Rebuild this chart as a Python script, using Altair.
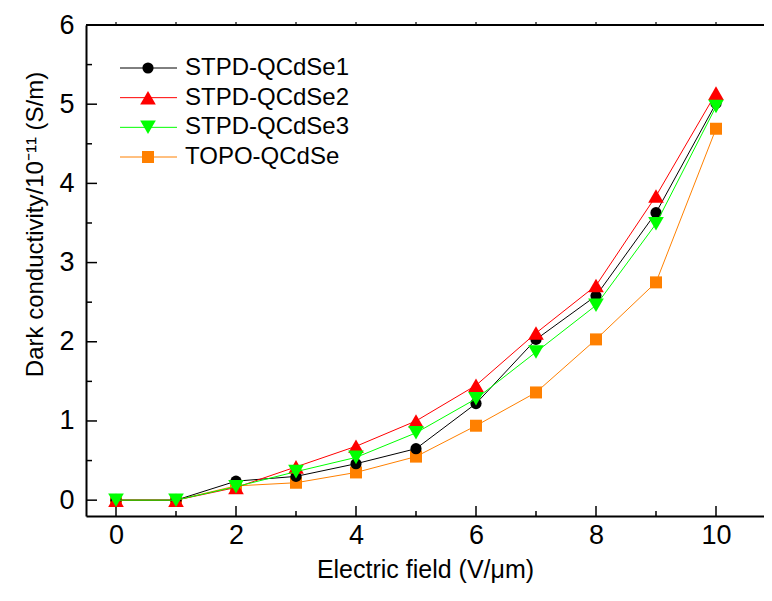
import altair as alt
import pandas as pd

# ---- data ----
FIELD = [0, 1, 2, 3, 4, 5, 6, 7, 8, 9, 10]
STPD1 = [0.0, 0.0, 0.24, 0.30, 0.46, 0.65, 1.22, 2.03, 2.58, 3.63, 5.01]
STPD2 = [0.0, 0.0, 0.16, 0.42, 0.68, 1.00, 1.45, 2.11, 2.71, 3.84, 5.14]
STPD3 = [0.0, 0.0, 0.17, 0.36, 0.54, 0.85, 1.28, 1.87, 2.46, 3.49, 4.97]
TOPO = [0.0, 0.0, 0.18, 0.22, 0.35, 0.55, 0.94, 1.36, 2.03, 2.75, 4.69]

NAMES = ["STPD-QCdSe1", "STPD-QCdSe2", "STPD-QCdSe3", "TOPO-QCdSe"]
COLORS = ["#000000", "#ff0000", "#00ff00", "#ff8000"]
SHAPES = ["circle", "triangle-up", "triangle-down", "square"]
SIZES = [125, 245, 245, 144]

X_MAJOR = [0, 2, 4, 6, 8, 10]
X_MINOR = [1, 3, 5, 7, 9]
X_TOP = [0, 1, 2, 3, 4, 5, 6, 7, 8, 9, 10]
Y_MAJOR = [0, 1, 2, 3, 4, 5, 6]
Y_MINOR = [0.5, 1.5, 2.5, 3.5, 4.5, 5.5]

SERIES = [STPD1, STPD2, STPD3, TOPO]

W, H = 678, 491
FONT = "Liberation Sans"

xs = alt.Scale(domain=[-0.5, 10.8], nice=False, zero=False)
ys = alt.Scale(domain=[-0.2, 6], nice=False, zero=False)

common = dict(tickSize=0, grid=False, domainColor="black", domainWidth=2,
              labelFont=FONT, titleFont=FONT, labelFontSize=27,
              labelColor="black", titleColor="black", titleFontWeight="normal")
x_axis = alt.Axis(values=X_MAJOR, title="Electric field (V/μm)",
                  labelPadding=6, titlePadding=9, titleFontSize=25, **common)
y_axis = alt.Axis(values=Y_MAJOR, title="Dark conductivity/10⁻¹¹ (S/m)",
                  labelPadding=12, titleFontSize=24, titleAngle=270,
                  titleX=-51, titleY=199, titleBaseline="middle", **common)

layers = []

# inward tick marks
def yticks(vals, length):
    df = pd.DataFrame({"v": vals})
    return alt.Chart(df).mark_rule(color="black", strokeWidth=1.5).encode(
        y=alt.Y("v:Q", scale=ys, axis=y_axis),
        x=alt.value(0), x2=alt.value(length))

def xticks(vals, length):
    df = pd.DataFrame({"v": vals})
    return alt.Chart(df).mark_rule(color="black", strokeWidth=1.5).encode(
        x=alt.X("v:Q", scale=xs, axis=x_axis),
        y=alt.value(H), y2=alt.value(H - length))

layers += [yticks(Y_MAJOR, 11), yticks(Y_MINOR, 6), xticks(X_MAJOR, 10), xticks(X_MINOR, 5)]

# top frame line with small ticks
top_df = pd.DataFrame({"v": [0]})
layers.append(alt.Chart(top_df).mark_rule(color="black", strokeWidth=2).encode(
    y=alt.value(0), x=alt.value(0), x2=alt.value(W)))
layers.append(alt.Chart(pd.DataFrame({"v": X_TOP})).mark_rule(
    color="black", strokeWidth=1.2).encode(
    x=alt.X("v:Q", scale=xs, axis=x_axis), y=alt.value(0), y2=alt.value(-3)))

# series, drawn orange, black, red, green
for i in [3, 0, 1, 2]:
    df = pd.DataFrame({"x": FIELD, "y": SERIES[i]})
    base = alt.Chart(df).encode(
        x=alt.X("x:Q", scale=xs, axis=x_axis),
        y=alt.Y("y:Q", scale=ys, axis=y_axis))
    layers.append(base.mark_line(color=COLORS[i], strokeWidth=1))
    layers.append(base.mark_point(shape=SHAPES[i], size=SIZES[i], filled=True,
                                  color=COLORS[i], opacity=1, strokeWidth=0))

main = alt.layer(*layers)

# custom legend
leg_df = pd.DataFrame({"name": NAMES, "idx": [0, 1, 2, 3]})
ly = alt.Y("idx:Q", scale=alt.Scale(domain=[0, 3], range=[43, 132]), axis=None)
lcolor = alt.Color("name:N", scale=alt.Scale(domain=NAMES, range=COLORS), legend=None)
leg_base = alt.Chart(leg_df)
leg_layers = [leg_base.mark_rule(strokeWidth=1).encode(
    y=ly, x=alt.value(34), x2=alt.value(91), color=lcolor)]
for i in range(4):
    leg_layers.append(leg_base.transform_filter(alt.datum.idx == i).mark_point(
        filled=True, opacity=1, shape=SHAPES[i], size=SIZES[i], color=COLORS[i],
        strokeWidth=0).encode(y=ly, x=alt.value(62)))
leg_layers.append(leg_base.mark_text(align="left", baseline="middle", fontSize=24,
                                     font=FONT, color="black").encode(
    y=ly, x=alt.value(99), text="name:N"))
legend = alt.layer(*leg_layers)

chart = alt.layer(main, legend).resolve_scale(
    x="independent", y="independent", color="independent"
).properties(
    width=W, height=H,
    autosize=alt.AutoSizeParams(type="none"),
    padding={"left": 78, "top": 17, "right": 0, "bottom": 77},
).configure_view(stroke=None)

chart.save("out.html", embed_options={"renderer": "svg", "actions": False})
